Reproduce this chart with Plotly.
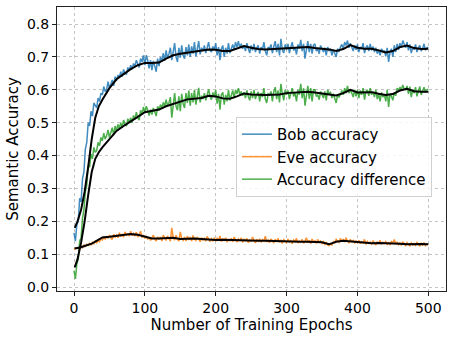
import plotly.graph_objects as go

epochs = list(range(0, 501, 2))

bob_acc = [
    0.165, 0.14, 0.19, 0.2, 0.27, 0.26, 0.33, 0.35, 0.42, 0.44,
    0.50, 0.49, 0.535, 0.52, 0.56, 0.55, 0.545, 0.575, 0.565, 0.59,
    0.585, 0.61, 0.595, 0.6, 0.625, 0.605, 0.615, 0.63, 0.612, 0.64,
    0.628, 0.645, 0.638, 0.655, 0.64, 0.662, 0.65, 0.648, 0.668, 0.66,
    0.675, 0.662, 0.68, 0.672, 0.69, 0.675, 0.668, 0.695, 0.685, 0.705,
    0.675, 0.705, 0.69, 0.665, 0.69, 0.66, 0.688, 0.672, 0.655, 0.695,
    0.672, 0.70, 0.685, 0.712, 0.688, 0.72, 0.695, 0.71, 0.728, 0.69,
    0.72, 0.742, 0.70, 0.685, 0.728, 0.698, 0.735, 0.705, 0.695, 0.73,
    0.705, 0.738, 0.70, 0.732, 0.71, 0.745, 0.702, 0.728, 0.748, 0.708,
    0.728, 0.718, 0.735, 0.712, 0.73, 0.745, 0.72, 0.715, 0.732, 0.722,
    0.742, 0.705, 0.73, 0.69, 0.725, 0.735, 0.70, 0.728, 0.71, 0.742,
    0.712, 0.728, 0.738, 0.722, 0.745, 0.73, 0.748, 0.728, 0.74, 0.725,
    0.735, 0.718, 0.742, 0.725, 0.712, 0.735, 0.72, 0.74, 0.715, 0.728,
    0.735, 0.71, 0.73, 0.722, 0.745, 0.718, 0.705, 0.73, 0.725, 0.738,
    0.712, 0.732, 0.748, 0.715, 0.74, 0.705, 0.755, 0.722, 0.712, 0.738,
    0.722, 0.74, 0.712, 0.73, 0.745, 0.72, 0.728, 0.708, 0.738, 0.725,
    0.752, 0.718, 0.74, 0.695, 0.73, 0.748, 0.715, 0.74, 0.71, 0.736,
    0.74, 0.718, 0.725, 0.71, 0.735, 0.722, 0.715, 0.728, 0.705, 0.73,
    0.718, 0.725, 0.705, 0.722, 0.712, 0.70, 0.725, 0.715, 0.73, 0.738,
    0.725, 0.745, 0.735, 0.75, 0.728, 0.742, 0.73, 0.718, 0.735, 0.722,
    0.738, 0.715, 0.73, 0.725, 0.742, 0.712, 0.728, 0.735, 0.718, 0.74,
    0.72, 0.732, 0.715, 0.728, 0.71, 0.722, 0.705, 0.725, 0.715, 0.72,
    0.702, 0.728, 0.685, 0.715, 0.725, 0.70, 0.735, 0.715, 0.74, 0.722,
    0.742, 0.728, 0.75, 0.735, 0.728, 0.745, 0.72, 0.738, 0.712, 0.73,
    0.722, 0.738, 0.715, 0.728, 0.735, 0.718, 0.725, 0.74, 0.72, 0.728,
    0.73]

eve_acc = [
    0.115, 0.118, 0.12, 0.116, 0.122, 0.125, 0.12, 0.128, 0.124, 0.13,
    0.127, 0.133, 0.128, 0.136, 0.132, 0.14, 0.135, 0.142, 0.138, 0.147,
    0.143, 0.152, 0.146, 0.155, 0.148, 0.158, 0.15, 0.145, 0.16, 0.152,
    0.158, 0.15, 0.165, 0.155, 0.16, 0.152, 0.168, 0.158, 0.162, 0.155,
    0.17, 0.157, 0.163, 0.155, 0.167, 0.152, 0.16, 0.17, 0.15, 0.158,
    0.148, 0.156, 0.145, 0.152, 0.142, 0.15, 0.158, 0.145, 0.14, 0.153,
    0.145, 0.152, 0.14, 0.158, 0.147, 0.142, 0.155, 0.148, 0.14, 0.18,
    0.15, 0.143, 0.158, 0.145, 0.14, 0.168, 0.147, 0.142, 0.152, 0.14,
    0.155, 0.145, 0.15, 0.14, 0.157, 0.146, 0.142, 0.152, 0.145, 0.138,
    0.15, 0.143, 0.148, 0.14, 0.154, 0.145, 0.138, 0.147, 0.141, 0.15,
    0.14, 0.148, 0.143, 0.155, 0.138, 0.146, 0.142, 0.15, 0.137, 0.145,
    0.141, 0.148, 0.138, 0.152, 0.143, 0.137, 0.146, 0.14, 0.15, 0.136,
    0.145, 0.14, 0.148, 0.135, 0.143, 0.138, 0.152, 0.14, 0.134, 0.145,
    0.139, 0.147, 0.136, 0.144, 0.14, 0.155, 0.137, 0.143, 0.135, 0.146,
    0.14, 0.134, 0.145, 0.138, 0.148, 0.136, 0.142, 0.133, 0.144, 0.139,
    0.135, 0.146, 0.137, 0.141, 0.132, 0.143, 0.138, 0.148, 0.134, 0.14,
    0.136, 0.145, 0.133, 0.14, 0.15, 0.135, 0.142, 0.132, 0.146, 0.137,
    0.141, 0.133, 0.145, 0.136, 0.14, 0.132, 0.138, 0.13, 0.135, 0.128,
    0.126, 0.132, 0.128, 0.138, 0.135, 0.145, 0.14, 0.136, 0.148, 0.14,
    0.144, 0.137, 0.15, 0.139, 0.135, 0.145, 0.138, 0.142, 0.133, 0.14,
    0.135, 0.142, 0.132, 0.138, 0.134, 0.145, 0.13, 0.139, 0.133, 0.137,
    0.131, 0.14, 0.134, 0.128, 0.138, 0.132, 0.142, 0.13, 0.136, 0.133,
    0.138, 0.13, 0.135, 0.128, 0.14, 0.133, 0.145, 0.131, 0.136, 0.129,
    0.134, 0.127, 0.138, 0.131, 0.126, 0.135, 0.13, 0.125, 0.134, 0.128,
    0.132, 0.127, 0.136, 0.129, 0.125, 0.133, 0.128, 0.135, 0.126, 0.131,
    0.129]

diff_acc = [
    0.05, 0.025, 0.07, 0.085, 0.14, 0.15, 0.21, 0.235, 0.29, 0.31,
    0.37, 0.365, 0.405, 0.39, 0.425, 0.41, 0.415, 0.44, 0.43, 0.455,
    0.445, 0.468, 0.45, 0.46, 0.478, 0.455, 0.47, 0.485, 0.462, 0.49,
    0.475, 0.495, 0.482, 0.50, 0.485, 0.508, 0.495, 0.49, 0.512, 0.50,
    0.515, 0.50, 0.522, 0.51, 0.532, 0.515, 0.508, 0.538, 0.525, 0.548,
    0.53, 0.55, 0.538, 0.522, 0.54, 0.525, 0.545, 0.535, 0.52, 0.55,
    0.538, 0.555, 0.545, 0.562, 0.548, 0.57, 0.552, 0.56, 0.578, 0.515,
    0.565, 0.59, 0.55, 0.538, 0.58, 0.535, 0.588, 0.558, 0.545, 0.59,
    0.56, 0.598, 0.552, 0.59, 0.562, 0.60, 0.555, 0.582, 0.606, 0.562,
    0.582, 0.572, 0.59, 0.568, 0.585, 0.602, 0.58, 0.57, 0.592, 0.578,
    0.60, 0.558, 0.588, 0.54, 0.585, 0.592, 0.555, 0.585, 0.565, 0.60,
    0.568, 0.585, 0.598, 0.575, 0.60, 0.588, 0.605, 0.585, 0.595, 0.582,
    0.592, 0.575, 0.598, 0.58, 0.568, 0.595, 0.575, 0.60, 0.572, 0.585,
    0.594, 0.565, 0.59, 0.578, 0.605, 0.572, 0.56, 0.588, 0.585, 0.595,
    0.565, 0.595, 0.608, 0.572, 0.598, 0.562, 0.618, 0.588, 0.568, 0.60,
    0.585, 0.598, 0.572, 0.59, 0.605, 0.58, 0.59, 0.565, 0.60, 0.585,
    0.618, 0.575, 0.605, 0.552, 0.59, 0.612, 0.572, 0.605, 0.565, 0.60,
    0.60, 0.58, 0.585, 0.57, 0.595, 0.585, 0.575, 0.595, 0.568, 0.60,
    0.588, 0.592, 0.575, 0.588, 0.575, 0.56, 0.585, 0.578, 0.585, 0.598,
    0.585, 0.605, 0.59, 0.612, 0.59, 0.60, 0.59, 0.578, 0.60, 0.58,
    0.60, 0.575, 0.598, 0.585, 0.605, 0.57, 0.595, 0.60, 0.582, 0.605,
    0.585, 0.595, 0.578, 0.60, 0.572, 0.588, 0.565, 0.592, 0.578, 0.586,
    0.565, 0.60, 0.548, 0.588, 0.58, 0.568, 0.592, 0.582, 0.605, 0.598,
    0.608, 0.60, 0.615, 0.602, 0.60, 0.612, 0.588, 0.61, 0.578, 0.60,
    0.59, 0.608, 0.58, 0.598, 0.61, 0.585, 0.597, 0.608, 0.592, 0.60,
    0.602]

smooth_epochs = [1, 5, 10, 15, 20, 25, 30, 35, 40, 50, 60, 70, 80, 90, 100,
                 110, 120, 130, 140, 150, 160, 170, 180, 190, 200, 210, 220,
                 230, 240, 250, 260, 270, 280, 290, 300, 310, 320, 330, 340,
                 350, 360, 370, 380, 390, 400, 410, 420, 430, 440, 450, 460,
                 470, 480, 490, 500]

bob_smooth = [0.18, 0.20, 0.235, 0.29, 0.365, 0.45, 0.515, 0.55, 0.57, 0.605,
              0.632, 0.648, 0.663, 0.675, 0.682, 0.682, 0.683, 0.695, 0.705,
              0.71, 0.713, 0.718, 0.72, 0.723, 0.722, 0.718, 0.718, 0.725,
              0.733, 0.728, 0.724, 0.723, 0.724, 0.726, 0.725, 0.727, 0.729,
              0.73, 0.727, 0.725, 0.723, 0.718, 0.724, 0.736, 0.728, 0.725,
              0.725, 0.72, 0.714, 0.718, 0.73, 0.735, 0.727, 0.724, 0.725]

eve_smooth = [0.117, 0.118, 0.121, 0.125, 0.128, 0.132, 0.138, 0.145, 0.151,
              0.153, 0.155, 0.158, 0.161, 0.159, 0.154, 0.148, 0.148, 0.148,
              0.15, 0.146, 0.147, 0.148, 0.146, 0.144, 0.143, 0.144, 0.143,
              0.143, 0.142, 0.14, 0.141, 0.141, 0.14, 0.139, 0.138, 0.139,
              0.138, 0.138, 0.138, 0.136, 0.13, 0.138, 0.141, 0.139, 0.136,
              0.135, 0.133, 0.134, 0.134, 0.134, 0.132, 0.13, 0.131, 0.131, 0.13]

diff_smooth = [0.06, 0.085, 0.135, 0.20, 0.28, 0.35, 0.39, 0.41, 0.425, 0.45,
               0.475, 0.49, 0.505, 0.518, 0.532, 0.537, 0.54, 0.55, 0.558,
               0.564, 0.571, 0.573, 0.575, 0.582, 0.58, 0.574, 0.573, 0.58,
               0.589, 0.586, 0.584, 0.584, 0.585, 0.586, 0.59, 0.592, 0.593,
               0.594, 0.592, 0.589, 0.585, 0.583, 0.59, 0.60, 0.592, 0.592,
               0.593, 0.588, 0.584, 0.587, 0.598, 0.603, 0.596, 0.594, 0.594]

y_ticks = [0.0, 0.1, 0.2, 0.3, 0.4, 0.5, 0.6, 0.7, 0.8]
x_ticks = [0, 100, 200, 300, 400, 500]

FONT = "DejaVu Sans"

fig = go.Figure()
raw = [("Bob accuracy", bob_acc, "rgba(31,119,180,0.85)"),
       ("Eve accuracy", eve_acc, "rgba(255,127,14,0.85)"),
       ("Accuracy difference", diff_acc, "rgba(44,160,44,0.85)")]
for name, vals, col in raw:
    fig.add_trace(go.Scatter(x=epochs, y=vals, mode="lines", name=name,
                             line=dict(color=col, width=1.5)))
for vals in (bob_smooth, eve_smooth, diff_smooth):
    fig.add_trace(go.Scatter(x=smooth_epochs, y=vals, mode="lines",
                             showlegend=False, hoverinfo="skip",
                             line=dict(color="black", width=2)))

axis_common = dict(showline=True, linecolor="#222222", linewidth=1, mirror=True,
                   ticks="outside", ticklen=4, tickcolor="#222222",
                   showgrid=True, gridcolor="#c4c4c4", gridwidth=0.8,
                   griddash="dot", zeroline=False,
                   tickfont=dict(family=FONT, size=14, color="black"))

fig.update_layout(
    width=454, height=339,
    margin=dict(l=57, r=8, t=7, b=48),
    paper_bgcolor="white", plot_bgcolor="white",
    font=dict(family=FONT, size=15, color="black"),
    xaxis=dict(range=[-24, 525], tickvals=x_ticks,
               title=dict(text="Number of Training Epochs", standoff=2,
                          font=dict(family=FONT, size=15)),
               **axis_common),
    yaxis=dict(range=[-0.012, 0.852], tickvals=y_ticks,
               ticktext=[f"{v:.1f}" for v in y_ticks],
               title=dict(text="Semantic Accuracy", standoff=4,
                          font=dict(family=FONT, size=15)),
               **axis_common),
    legend=dict(x=0.46, y=0.613, xanchor="left", yanchor="top",
                bgcolor="rgba(255,255,255,0.85)", bordercolor="#d0d0d0",
                borderwidth=1, font=dict(family=FONT, size=15),
                itemwidth=30, tracegroupgap=0),
    showlegend=True,
)

fig.write_html("out.html")
